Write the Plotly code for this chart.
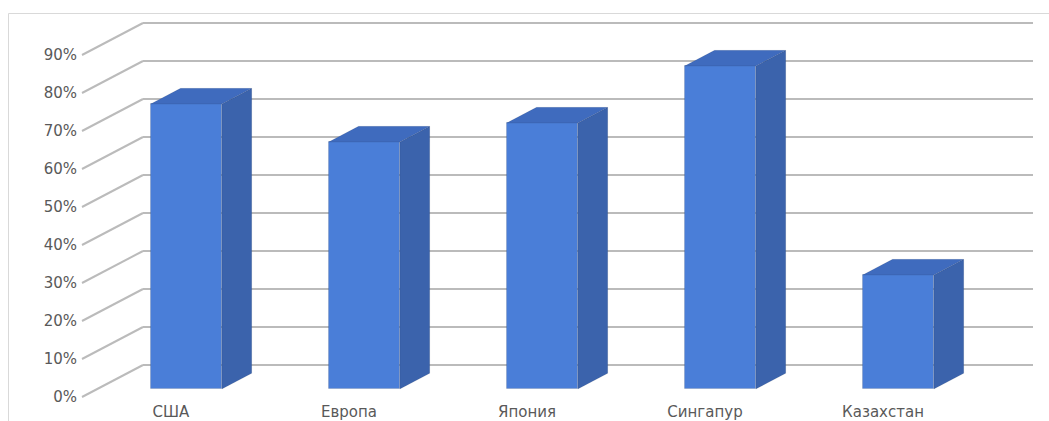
import plotly.graph_objects as go

# ---- data ----
categories = ["США", "Европа", "Япония", "Сингапур", "Казахстан"]
values = [0.75, 0.65, 0.70, 0.85, 0.30]
tick_values = [0.0, 0.1, 0.2, 0.3, 0.4, 0.5, 0.6, 0.7, 0.8, 0.9]
tick_labels = ["0%", "10%", "20%", "30%", "40%", "50%", "60%", "70%", "80%", "90%"]

# ---- 3D-look geometry (in axis units) ----
W, HF = 1049, 421
PX_CAT = 178.0          # pixels per category
PX_Y = 380.0            # pixels per 100%
D = 61 / PX_CAT         # depth shift in x units
H = 32 / PX_Y           # depth shift in y units
F1, F2 = 0.25, 0.74     # bar front/back depth fractions
BAR_W = 0.4

ml, mr, mt, mb = 78, 12, 19, 20
x0 = -(82 - ml) / PX_CAT
x1 = (W - mr - 82) / PX_CAT
y0 = -(HF - mb - 397) / PX_Y
y1 = (397 - mt) / PX_Y

FRONT = "#4A7ED8"
SIDE = "#3B63AC"
TOP = "#3F6BBE"
GRID = "#BBBBBB"
TXT = "#595959"

fig = go.Figure()

# gridlines: back wall + left wall diagonals
shapes = []
for v in tick_values:
    shapes.append(dict(type="line", xref="x", yref="y", x0=D, x1=len(categories) + D,
                       y0=v + H, y1=v + H, line=dict(color=GRID, width=2), layer="below"))
    shapes.append(dict(type="line", xref="x", yref="y", x0=0, x1=D,
                       y0=v, y1=v + H, line=dict(color=GRID, width=2), layer="below"))

# bar front faces
centers = [i + 0.5 + F1 * D for i in range(len(categories))]
fig.add_trace(go.Bar(
    x=centers, y=values, base=[F1 * H] * len(values), width=BAR_W,
    marker=dict(color=FRONT, line=dict(color="rgba(0,0,0,0.10)", width=1)),
    hoverinfo="skip", showlegend=False,
))

dD = (F2 - F1) * D
dH = (F2 - F1) * H
for c, v in zip(centers, values):
    xl, xr = c - BAR_W / 2, c + BAR_W / 2
    b1 = F1 * H
    t1 = v + F1 * H
    # side face
    fig.add_trace(go.Scatter(
        x=[xr, xr + dD, xr + dD, xr, xr], y=[b1, b1 + dH, t1 + dH, t1, b1],
        fill="toself", fillcolor=SIDE, mode="lines",
        line=dict(color="rgba(0,0,0,0.08)", width=1),
        hoverinfo="skip", showlegend=False,
    ))
    # top face
    fig.add_trace(go.Scatter(
        x=[xl, xl + dD, xr + dD, xr, xl], y=[t1, t1 + dH, t1 + dH, t1, t1],
        fill="toself", fillcolor=TOP, mode="lines",
        line=dict(color="rgba(0,0,0,0.08)", width=1),
        hoverinfo="skip", showlegend=False,
    ))

# outer chart border (paper coords)
pw = W - ml - mr
ph = HF - mt - mb
def px_to_paper_x(px):
    return (px - ml) / pw
def px_to_paper_y(py):
    return (HF - mb - py) / ph
shapes.append(dict(type="rect", xref="paper", yref="paper",
                   x0=px_to_paper_x(8.5), x1=px_to_paper_x(1060),
                   y0=px_to_paper_y(430), y1=px_to_paper_y(13.5),
                   line=dict(color="#D9D9D9", width=1), layer="below"))

fig.update_layout(
    width=W, height=HF,
    margin=dict(l=ml, r=mr, t=mt, b=mb, autoexpand=False),
    paper_bgcolor="white", plot_bgcolor="white",
    shapes=shapes,
    font=dict(family="DejaVu Sans", size=15, color=TXT),
    xaxis=dict(range=[x0, x1], tickvals=[i + 0.5 for i in range(len(categories))],
               ticktext=categories, showgrid=False, zeroline=False, showline=False,
               ticks="", automargin=False,
               tickfont=dict(family="DejaVu Sans", size=15, color=TXT), fixedrange=True),
    yaxis=dict(range=[y0, y1], tickvals=tick_values, ticktext=tick_labels,
               showgrid=False, zeroline=False, showline=False, automargin=False,
               ticks="", tickfont=dict(family="DejaVu Sans", size=15, color=TXT),
               fixedrange=True),
    bargap=0,
)

fig.write_html("out.html", config={"displayModeBar": False},
               post_script="document.body.style.margin='0';document.body.style.overflow='hidden';")
